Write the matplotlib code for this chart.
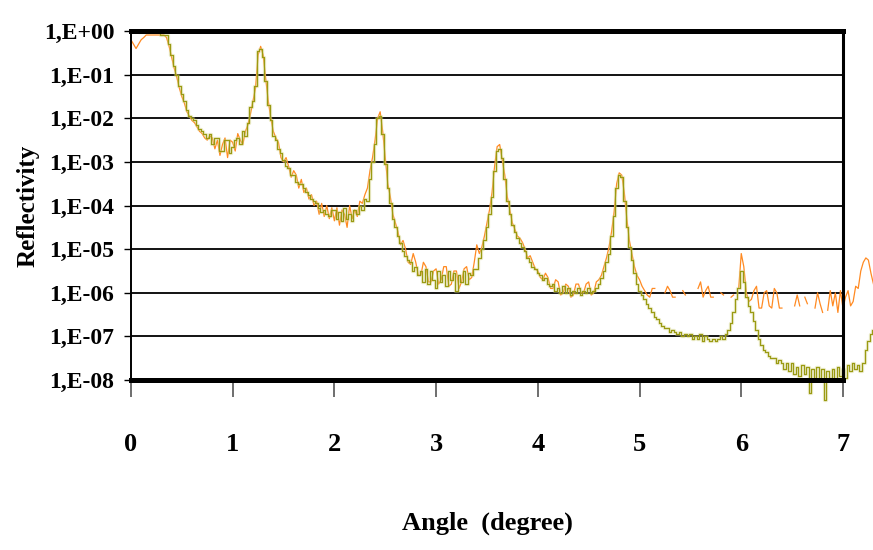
import numpy as np
import matplotlib
matplotlib.use("Agg")
import matplotlib.pyplot as plt

# angle grid (degree), 0.025 deg step, 0 .. 7.30
angle = np.round(np.arange(0, 293) * 0.025, 3)

nan = np.nan
# log10(reflectivity), one row per 0.5 degree
simulated_log = [
    nan, nan, nan, nan, -0.02, -0.02, -0.02, -0.02, -0.02, -0.02,
    -0.02, -0.02, -0.08, -0.08, -0.1, -0.3, -0.55, -0.8, -1.0, -1.25,
    -1.45, -1.6, -1.8, -1.95, -2.0, -2.05, -2.15, -2.25, -2.3, -2.35,
    -2.45, -2.35, -2.6, -2.45, -2.45, -2.75, -2.75, -2.5, -2.5, -2.8,
    -2.65, -2.5, -2.45, -2.6, -2.3, -2.4, -2.1, -1.75, -1.6, -1.25,
    -0.45, -0.4, -0.6, -1.15, -1.7, -2.05, -2.4, -2.5, -2.7, -2.8,
    -2.95, -3.1, -3.15, -3.3, -3.3, -3.45, -3.5, -3.5, -3.6, -3.7,
    -3.75, -3.85, -3.9, -3.95, -4.05, -4.15, -4.1, -4.2, -4.25, -4.1,
    -4.1, -4.3, -4.15, -4.35, -4.05, -4.3, -4.2, -4.35, -4.1, -4.2,
    -4.0, -4.1, -3.85, -3.9, -3.4, -3.0, -2.6, -2.0, -1.95, -2.35,
    -3.05, -3.6, -3.95, -4.3, -4.5, -4.7, -4.85, -5.05, -5.15, -5.25,
    -5.3, -5.5, -5.4, -5.6, -5.5, -5.75, -5.45, -5.8, -5.5, -5.7,
    -5.9, -5.5, -5.75, -5.6, -5.85, -5.5, -5.7, -5.55, -5.95, -5.6,
    -5.75, -5.5, -5.8, -5.55, -5.6, -5.45, -5.45, -5.2, -5.0, -4.8,
    -4.5, -4.2, -3.8, -3.2, -2.75, -2.7, -2.9, -3.4, -3.9, -4.2,
    -4.45, -4.6, -4.75, -4.85, -4.95, -5.05, -5.2, -5.3, -5.4, -5.45,
    -5.55, -5.6, -5.7, -5.65, -5.8, -5.85, -5.8, -5.95, -5.9, -6.0,
    -5.85, -6.0, -5.9, -6.05, -5.95, -6.0, -5.9, -6.05, -5.95, -6.0,
    -5.9, -6.0, -5.95, -5.9, -5.8, -5.65, -5.5, -5.3, -5.1, -4.7,
    -4.25, -3.6, -3.3, -3.35, -3.9, -4.5, -4.95, -5.25, -5.55, -5.8,
    -5.95, -6.05, -6.15, -6.25, -6.35, -6.45, -6.55, -6.6, -6.7, -6.75,
    -6.8, -6.8, -6.9, -6.85, -6.9, -6.95, -6.9, -7.0, -6.95, -7.0,
    -6.95, -7.05, -7.0, -7.05, -6.95, -7.1, -7.0, -7.05, -7.1, -7.05,
    -7.1, -7.05, -7.0, -7.05, -6.95, -6.85, -6.7, -6.45, -6.15, -5.9,
    -5.5, -5.75, -6.1, -6.3, -6.45, -6.65, -6.85, -7.05, -7.2, -7.3,
    -7.35, -7.45, -7.5, -7.5, -7.6, -7.55, -7.6, -7.75, -7.6, -7.8,
    -7.6, -7.85, -7.7, -7.9, -7.65, -7.85, -7.7, -8.3, -7.75, -7.95,
    -7.7, -8.0, -7.75, -8.45, -7.8, -7.95, -7.75, -8.0, -7.7, -7.9,
    -7.75, -7.95, -7.65, -7.8, -7.6, -7.75, -7.65, -7.8, -7.6, -7.3,
    -7.1, -6.95, -6.85,
]

measured_log = [
    -0.2, -0.3, -0.4, -0.3, -0.2, -0.15, -0.09, -0.09, -0.09, -0.09,
    -0.09, -0.09, -0.09, -0.09, -0.15, -0.35, -0.6, -0.85, -1.05, -1.3,
    -1.5, -1.65, -1.85, -1.95, -2.05, -2.1, -2.2, -2.3, -2.35, -2.45,
    -2.5, -2.4, -2.45, -2.7, -2.5, -2.85, -2.6, -2.45, -2.9, -2.5,
    -2.55, -2.75, -2.35, -2.5, -2.6, -2.3, -2.15, -1.9, -1.6, -1.3,
    -0.55, -0.35, -0.55, -1.1, -1.6, -2.0, -2.3, -2.45, -2.55, -2.9,
    -3.0, -2.9, -3.1, -3.35, -3.2, -3.3, -3.6, -3.4, -3.7, -3.6,
    -3.85, -3.75, -4.0, -3.9, -4.2, -3.95, -4.25, -4.0, -4.3, -4.05,
    -4.35, -4.05, -4.45, -4.1, -4.2, -4.5, -4.0, -4.3, -4.1, -4.25,
    -3.9, -3.95, -3.75, -3.6, -3.2, -2.9, -2.5, -2.0, -1.85, -2.3,
    -2.9, -3.5, -3.8, -4.2, -4.4, -4.6, -4.9, -4.8, -5.0, -5.3,
    -5.35, -5.1, -5.3, -5.6, -5.6, -5.3, -5.4, -5.75, -5.75, -5.5,
    -5.45, -5.8, -5.7, -5.4, -5.4, -5.85, -5.8, -5.5, -5.5, -5.9,
    -5.75, -5.45, -5.4, -5.7, -5.65, -5.3, -4.9, -5.1, -4.95, -4.7,
    -4.4, -4.1, -3.7, -3.1, -2.65, -2.6, -2.95, -3.3, -3.8, -4.1,
    -4.4, -4.55, -4.7, -4.75, -4.85, -5.0, -5.2, -5.15, -5.3, -5.45,
    -5.5, -5.65, -5.7, -5.55, -5.65, -5.9, -5.9, -5.7, -5.75, -6.05,
    -6.0, -5.8, -5.85, -6.1, -6.05, -5.8, -5.8, -6.0, -6.0, -5.8,
    -5.75, -6.05, -6.0, -5.75, -5.7, -5.6, -5.4, -5.2, -4.95, -4.6,
    -4.15, -3.5, -3.25, -3.3, -3.7, -4.3, -4.8, -5.1, -5.4, -5.6,
    -5.7, -5.85, -5.95, -6.05, -6.1, -5.9, -5.9, nan, nan, nan,
    -6.0, -5.85, -5.95, -6.1, -6.1, nan, nan, -5.95, -6.05, nan,
    nan, -6.0, nan, -5.9, -5.75, -6.1, -5.95, -5.85, -6.1, -6.1,
    nan, nan, -6.0, -6.05, nan, nan, -6.1, -6.05, nan, -5.9,
    -5.1, -5.4, -6.0, -6.2, -6.15, -5.95, -5.85, -6.35, -6.35, -6.0,
    -5.95, -6.3, -6.35, -5.9, -6.0, -6.35, -6.35, nan, nan, nan,
    nan, -6.3, -6.05, -6.3, nan, -6.1, -6.25, nan, nan, -6.35,
    -6.0, -6.25, -6.45, nan, -6.4, -5.95, -6.3, -6.0, -6.45, -5.95,
    -6.35, -6.1, -5.95, -6.3, -6.2, -5.85, -5.9, -5.5, -5.3, -5.2,
    -5.25, -5.55, -5.8,
]

ytick_values = [1e-8, 1e-7, 1e-6, 1e-5, 1e-4, 1e-3, 1e-2, 1e-1, 1e0]
ytick_labels = ['1,E-08', '1,E-07', '1,E-06', '1,E-05', '1,E-04',
                '1,E-03', '1,E-02', '1,E-01', '1,E+00']
xtick_values = [0, 1, 2, 3, 4, 5, 6, 7]

plt.rcParams['font.family'] = ['Liberation Serif', 'DejaVu Serif']
plt.rcParams['font.weight'] = 'bold'

fig = plt.figure(figsize=(8.73, 5.5), dpi=100)
ax = fig.add_axes([0.150, 0.309, 0.8156, 0.6345])

measured = 10 ** np.array(measured_log)
simulated = 10 ** np.array(simulated_log)

# measured curve (orange)
ax.plot(angle, measured, color='#ff8a22', lw=0.9, clip_on=False, zorder=3)
# simulated curve (olive steps with soft halo)
ax.plot(angle, simulated, color='#d6d68a', lw=2.4, alpha=0.4,
        drawstyle='steps-mid', clip_on=False, zorder=4)
ax.plot(angle, simulated, color='#9a9a12', lw=0.9,
        drawstyle='steps-mid', clip_on=False, zorder=5)

ax.set_yscale('log')
ax.set_xlim(0, 7)
ax.set_ylim(1e-8, 1)
ax.set_yticks(ytick_values)
ax.set_yticklabels(ytick_labels)
ax.yaxis.set_minor_locator(matplotlib.ticker.NullLocator())
ax.set_xticks(xtick_values)
ax.set_xticklabels([str(v) for v in xtick_values])

ax.grid(axis='y', color='black', lw=1.3, zorder=1)
ax.set_axisbelow(True)

for side in ['top', 'bottom']:
    ax.spines[side].set_linewidth(3.6)
ax.spines['left'].set_linewidth(1.4)
ax.spines['right'].set_linewidth(2.2)
for sp in ax.spines.values():
    sp.set_color('black')
    sp.set_zorder(6)

ax.tick_params(axis='y', length=5, width=1, pad=7, labelsize=17)
ax.tick_params(axis='x', length=12, width=1.2, pad=26, labelsize=19,
               color='#555555')

ax.set_xlabel('Angle  (degree)', fontsize=19, fontweight='bold', labelpad=40)
ax.set_ylabel('Reflectivity', fontsize=18, fontweight='bold')
ax.yaxis.set_label_coords(-0.128, 0.5)

fig.savefig('out.png', dpi=100)
